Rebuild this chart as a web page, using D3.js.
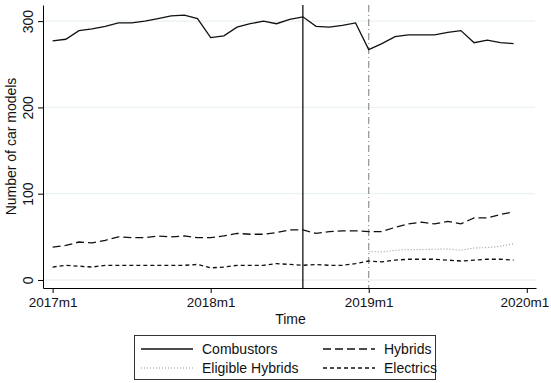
<!DOCTYPE html>
<html>
<head>
<meta charset="utf-8">
<script src="https://cdn.jsdelivr.net/npm/d3@7"></script>
<style>
  body { margin: 0; background: #fff; }
  text { font-family: "Liberation Sans", Arial, sans-serif; fill: #111; }
</style>
</head>
<body>
<div id="chart"></div>
<script>
// months since 2017m1
var months = d3.range(0, 36);

var combustors = [277, 279, 289, 291, 294, 298, 298, 300, 303, 306, 307, 303,
  281, 283, 293, 297, 300, 297, 302, 305, 294, 293, 295, 298,
  267, 274, 282, 284, 284, 284, 287, 289, 275, 278, 275, 274];

var hybrids = [38, 40, 44, 43, 46, 50, 49, 49, 51, 50, 51, 49,
  49, 51, 54, 53, 53, 55, 58, 58, 54, 56, 57, 57,
  56, 56, 61, 65, 67, 65, 68, 65, 72, 72, 76, 79];

var electrics = [15, 17, 16, 15, 17, 17, 17, 17, 17, 17, 17, 18,
  14, 15, 17, 17, 17, 19, 18, 17, 18, 17, 17, 19,
  22, 21, 23, 24, 24, 24, 23, 22, 23, 24, 24, 23];

// eligible hybrids start in 2019m1 (month 24)
var eligibleStart = 24;
var eligible = [33, 32.5, 34.4, 35.2, 35.2, 35.6, 36, 34.4, 37.1, 37.5, 39, 42.2];

var xTicks = [0, 12, 24, 36];
var xTickLabels = ["2017m1", "2018m1", "2019m1", "2020m1"];
var yTicks = [0, 100, 200, 300];

var solidLineMonth = 19;   // 2018m8
var dashedLineMonth = 24;  // 2019m1

var svgWidth = 551;
var svgHeight = 383;

var margin = { top: 5, right: 15, bottom: 95, left: 43 };
var width = svgWidth - margin.left - margin.right;
var height = svgHeight - margin.top - margin.bottom;

var fontSize = "14px";

var svg = d3.select("#chart")
  .append("svg")
  .attr("width", svgWidth)
  .attr("height", svgHeight);

var chartGroup = svg.append("g")
  .attr("transform", `translate(${margin.left}, ${margin.top})`);

var xScale = d3.scaleLinear()
  .domain([-0.73, 36.7])
  .range([0, width]);

var yScale = d3.scaleLinear()
  .domain([-9.3, 318.7])
  .range([height, 0]);

// gridlines
chartGroup.selectAll(".grid")
  .data(yTicks)
  .enter()
  .append("line")
  .attr("x1", 0)
  .attr("x2", width - 1)
  .attr("y1", d => yScale(d))
  .attr("y2", d => yScale(d))
  .attr("stroke", "#eaf2f3")
  .attr("stroke-width", 1.3);

// axes
var bottomAxis = d3.axisBottom(xScale)
  .tickValues(xTicks)
  .tickFormat((d, i) => xTickLabels[i])
  .tickSize(5)
  .tickSizeOuter(0)
  .tickPadding(4);

var leftAxis = d3.axisLeft(yScale)
  .tickValues(yTicks)
  .tickSize(5)
  .tickSizeOuter(0);

var xAxis = chartGroup.append("g")
  .attr("transform", `translate(0, ${height})`)
  .call(bottomAxis);

var yAxis = chartGroup.append("g")
  .call(leftAxis);

[xAxis, yAxis].forEach(function(ax) {
  ax.select(".domain").attr("stroke", "#000").attr("stroke-width", 1);
  ax.selectAll(".tick line").attr("stroke", "#000");
  ax.selectAll("text")
    .style("font-family", "Liberation Sans, Arial, sans-serif")
    .style("font-size", fontSize)
    .attr("fill", "#111");
});

// keep the last x label inside the picture
xAxis.selectAll(".tick text")
  .style("font-size", "13.5px")
  .filter(d => d === 36)
  .attr("text-anchor", "end")
  .attr("x", 22);

// rotated y tick labels
yAxis.selectAll(".tick text")
  .attr("x", null)
  .attr("dy", null)
  .attr("text-anchor", "middle")
  .attr("transform", "translate(-10, 0) rotate(-90)");

// axis titles
chartGroup.append("text")
  .attr("x", width / 2 + 1)
  .attr("y", height + 36)
  .attr("text-anchor", "middle")
  .style("font-size", fontSize)
  .text("Time");

chartGroup.append("text")
  .attr("transform", "rotate(-90)")
  .attr("x", -(height / 2))
  .attr("y", -27)
  .attr("text-anchor", "middle")
  .style("font-size", fontSize)
  .text("Number of car models");

// vertical reference lines
chartGroup.append("line")
  .attr("x1", xScale(solidLineMonth))
  .attr("x2", xScale(solidLineMonth))
  .attr("y1", 0)
  .attr("y2", height)
  .attr("stroke", "#000")
  .attr("stroke-width", 1.2);

chartGroup.append("line")
  .attr("x1", xScale(dashedLineMonth))
  .attr("x2", xScale(dashedLineMonth))
  .attr("y1", 0)
  .attr("y2", height)
  .attr("stroke", "#888")
  .attr("stroke-width", 1.1)
  .attr("stroke-dasharray", "7,3,1,3");

// series
var line = d3.line()
  .x(d => xScale(d[0]))
  .y(d => yScale(d[1]));

var series = [
  { name: "Combustors", values: combustors, start: 0, dash: null, color: "#111", w: 1.3 },
  { name: "Hybrids", values: hybrids, start: 0, dash: "8,4", color: "#111", w: 1.3 },
  { name: "Electrics", values: electrics, start: 0, dash: "4,3", color: "#111", w: 1.3 },
  { name: "Eligible Hybrids", values: eligible, start: eligibleStart, dash: "1,2", color: "#999", w: 1.1 }
];

series.forEach(function(s) {
  var pts = s.values.map((v, i) => [s.start + i, v]);
  chartGroup.append("path")
    .datum(pts)
    .attr("d", line)
    .attr("fill", "none")
    .attr("stroke", s.color)
    .attr("stroke-width", s.w)
    .attr("stroke-dasharray", s.dash);
});

// legend
var legend = svg.append("g");

legend.append("rect")
  .attr("x", 134.5)
  .attr("y", 335.5)
  .attr("width", 301)
  .attr("height", 44)
  .attr("fill", "#fff")
  .attr("stroke", "#333")
  .attr("stroke-width", 1);

var legendItems = [
  { s: series[0], x: 141, y: 349 },
  { s: series[1], x: 323, y: 349 },
  { s: series[3], x: 141, y: 368 },
  { s: series[2], x: 323, y: 368 }
];

legendItems.forEach(function(it) {
  legend.append("line")
    .attr("x1", it.x)
    .attr("x2", it.x + 52)
    .attr("y1", it.y)
    .attr("y2", it.y)
    .attr("stroke", it.s.color)
    .attr("stroke-width", it.s.w)
    .attr("stroke-dasharray", it.s.dash);
  legend.append("text")
    .attr("x", it.x + 61)
    .attr("y", it.y)
    .attr("dy", "0.35em")
    .style("font-size", fontSize)
    .text(it.s.name);
});
</script>
</body>
</html>
